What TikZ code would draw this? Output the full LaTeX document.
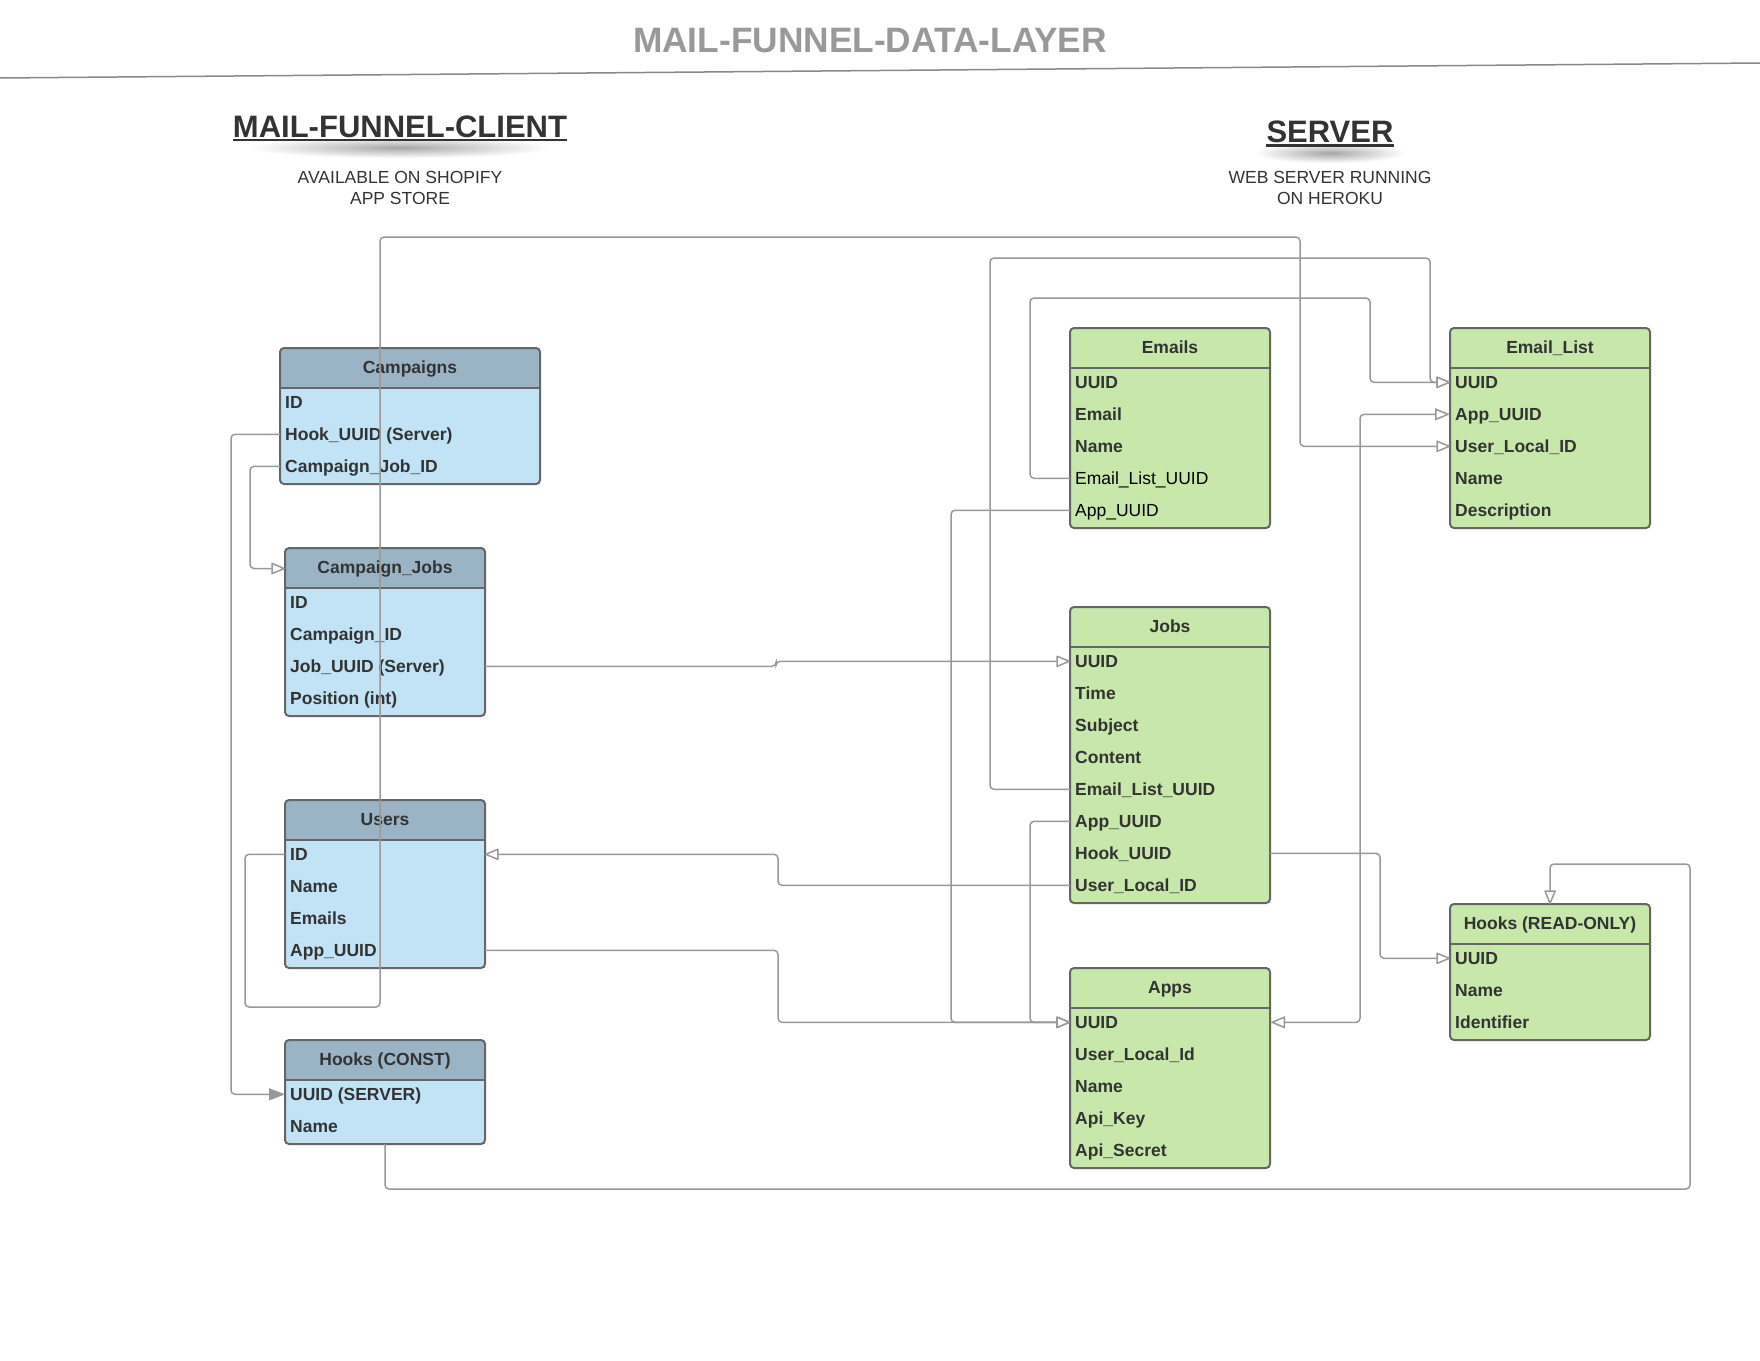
\documentclass[tikz,border=0pt]{standalone}
\usepackage{fontspec}
\setmainfont{Liberation Sans}
\usetikzlibrary{arrows.meta,fadings}
\definecolor{linegray}{HTML}{999999}
\definecolor{boxborder}{HTML}{666666}
\definecolor{textdark}{HTML}{333333}
\definecolor{bluehead}{HTML}{9AB4C6}
\definecolor{bluebody}{HTML}{C1E3F5}
\definecolor{greenbody}{HTML}{C7E7AB}
\definecolor{titlegray}{HTML}{999999}
\definecolor{rulegray}{HTML}{888888}
\tikzfading[name=shadowfade, inner color=transparent!0, outer color=transparent!100]
\newcommand\rowfont{\fontsize{17.5}{21}\selectfont\bfseries}
\newcommand\plainrow{\mdseries\color{black}}
\tikzset{
  tblbase/.style={draw=boxborder, line width=2pt, rounded corners=4pt, inner sep=0pt, outer sep=0pt},
  tblblue/.style={tblbase, fill=bluebody,
    path picture={\fill[bluehead] (path picture bounding box.north west) rectangle ([yshift=-40pt]path picture bounding box.north east);
      \draw[boxborder, line width=2pt] ([yshift=-40pt]path picture bounding box.north west) -- ([yshift=-40pt]path picture bounding box.north east);}},
  tblgreen/.style={tblbase, fill=greenbody,
    path picture={\draw[boxborder, line width=2pt] ([yshift=-40pt]path picture bounding box.north west) -- ([yshift=-40pt]path picture bounding box.north east);}},
  hdrtext/.style={inner sep=0pt, font=\rowfont, text=textdark, text height=12.5pt, text depth=3.5pt},
  rowtext/.style={anchor=base west, inner sep=0pt, font=\rowfont, text=textdark, text height=12.4pt, text depth=0pt},
  conn/.style={draw=linegray, line width=1.5pt, rounded corners=4pt},
  oarrow/.style={-{Triangle[length=15pt, width=12pt, fill=white, round=false]}},
  farrow/.style={-{Triangle[length=16pt, width=12pt]}},
  darrow/.style={{Triangle[length=15pt, width=12pt, fill=white]}-{Triangle[length=15pt, width=12pt, fill=white]}},
}
% #1 name, #2 left, #3 top, #4 width, #5 rows, #6 style, #7 title, #8 rows
\newcommand\ertable[8]{%
  \pgfmathsetmacro\ertH{40+32*#5}%
  \node[#6, minimum width=#4pt, minimum height=\ertH pt, anchor=north west] (#1) at (#2,#3) {};
  \node[hdrtext] (#1-h) at ([yshift=-20.5pt]#1.north) {#7};
  \foreach \txt [count=\i] in {#8} {
    \pgfmathsetmacro\ry{#3+40+20.5+32*(\i-1)}
    \node[rowtext] (#1-\i) at (#2+5,\ry) {\txt};
  }
}
\begin{document}
\begin{tikzpicture}[x=1pt, y=-1pt]
\useasboundingbox (0,0) rectangle (1760,1360);
\fill[white] (0,0) rectangle (1760,1360);

% titles
\node[font=\fontsize{35.3}{40}\selectfont\bfseries, text=titlegray, anchor=base, inner sep=0pt] (title) at (870,52) {MAIL-FUNNEL-DATA-LAYER};
\draw[rulegray, line width=1.5pt] (0,78) -- (1760,63);

\fill[black, path fading=shadowfade, opacity=0.35] (250,137) rectangle (550,158);
\fill[black, path fading=shadowfade, opacity=0.35] (1255,143) rectangle (1405,163);
\node[font=\fontsize{31}{36}\selectfont\bfseries, text=textdark, anchor=base, inner sep=0pt] (client) at (400,137) {MAIL-FUNNEL-CLIENT};
\draw[textdark, line width=2.5pt] ([yshift=-3pt]client.base west) -- ([yshift=-3pt]client.base east);
\node[font=\fontsize{31}{36}\selectfont\bfseries, text=textdark, anchor=base, inner sep=0pt] (server) at (1330,142) {SERVER};
\draw[textdark, line width=2.5pt] ([yshift=-3.5pt]server.base west) -- ([yshift=-3.5pt]server.base east);

\node[font=\fontsize{17.5}{21}\selectfont, text=textdark, align=center, anchor=north, inner sep=0pt] (clientsub) at (400,171) {AVAILABLE ON SHOPIFY\\APP STORE};
\node[font=\fontsize{17.5}{21}\selectfont, text=textdark, align=center, anchor=north, inner sep=0pt] (serversub) at (1330,171) {WEB SERVER RUNNING\\ON HEROKU};

% tables
\ertable{cam}{280}{348}{260}{3}{tblblue}{Campaigns}{ID,Hook\_UUID (Server),Campaign\_Job\_ID}
\ertable{cj}{285}{548}{200}{4}{tblblue}{Campaign\_Jobs}{ID,Campaign\_ID,Job\_UUID (Server),Position (int)}
\ertable{usr}{285}{800}{200}{4}{tblblue}{Users}{ID,Name,Emails,App\_UUID}
\ertable{hkc}{285}{1040}{200}{2}{tblblue}{Hooks (CONST)}{UUID (SERVER),Name}
\ertable{eml}{1070}{328}{200}{5}{tblgreen}{Emails}{UUID,Email,Name,\plainrow Email\_List\_UUID,\plainrow App\_UUID}
\ertable{elist}{1450}{328}{200}{5}{tblgreen}{Email\_List}{UUID,App\_UUID,User\_Local\_ID,Name,Description}
\ertable{jobs}{1070}{607}{200}{8}{tblgreen}{Jobs}{UUID,Time,Subject,Content,Email\_List\_UUID,App\_UUID,Hook\_UUID,User\_Local\_ID}
\ertable{apps}{1070}{968}{200}{5}{tblgreen}{Apps}{UUID,User\_Local\_Id,Name,Api\_Key,Api\_Secret}
\ertable{hkr}{1450}{904}{200}{3}{tblgreen}{Hooks (READ-ONLY)}{UUID,Name,Identifier}

% connectors
\draw[conn, farrow] (cam.west |- cam-2) -- ++(-49,0) |- (hkc.west |- hkc-1);
\draw[conn, oarrow] (cam.west |- cam-3) -- ++(-30,0) |- (cj.west |- cj-h);
\draw[conn, oarrow] (cj.east |- cj-3) -- ++(291,0) |- (jobs.west |- jobs-1);
\draw[conn, oarrow] (jobs.west |- jobs-8) -- ++(-292,0) |- (usr.east |- usr-1);
\draw[conn, oarrow] (usr.east |- usr-4) -- ++(293,0) |- (apps.west |- apps-1);
\draw[conn, oarrow] (eml.west |- eml-5) -- ++(-119,0) |- (apps.west |- apps-1);
\draw[conn, oarrow] (jobs.west |- jobs-6) -- ++(-40,0) |- (apps.west |- apps-1);
\draw[conn, oarrow] (jobs.west |- jobs-5) -| (990,258) -- (1430,258) |- (elist.west |- elist-1);
\draw[conn, oarrow] (eml.west |- eml-4) -| (1030,298) -- (1370,298) |- (elist.west |- elist-1);
\draw[conn, oarrow] (usr.west |- usr-1) -| (245,1007) -- (380,1007) -- (380,237) -- (1300,237) |- (elist.west |- elist-3);
\draw[conn, darrow] (apps.east |- apps-1) -- ++(90,0) |- (elist.west |- elist-2);
\draw[conn, oarrow] (jobs.east |- jobs-7) -- ++(110,0) |- (hkr.west |- hkr-1);
\draw[conn, oarrow] (hkc.south) |- (1690,1189) -- (1690,864) -| (hkr.north);
\end{tikzpicture}
\end{document}
